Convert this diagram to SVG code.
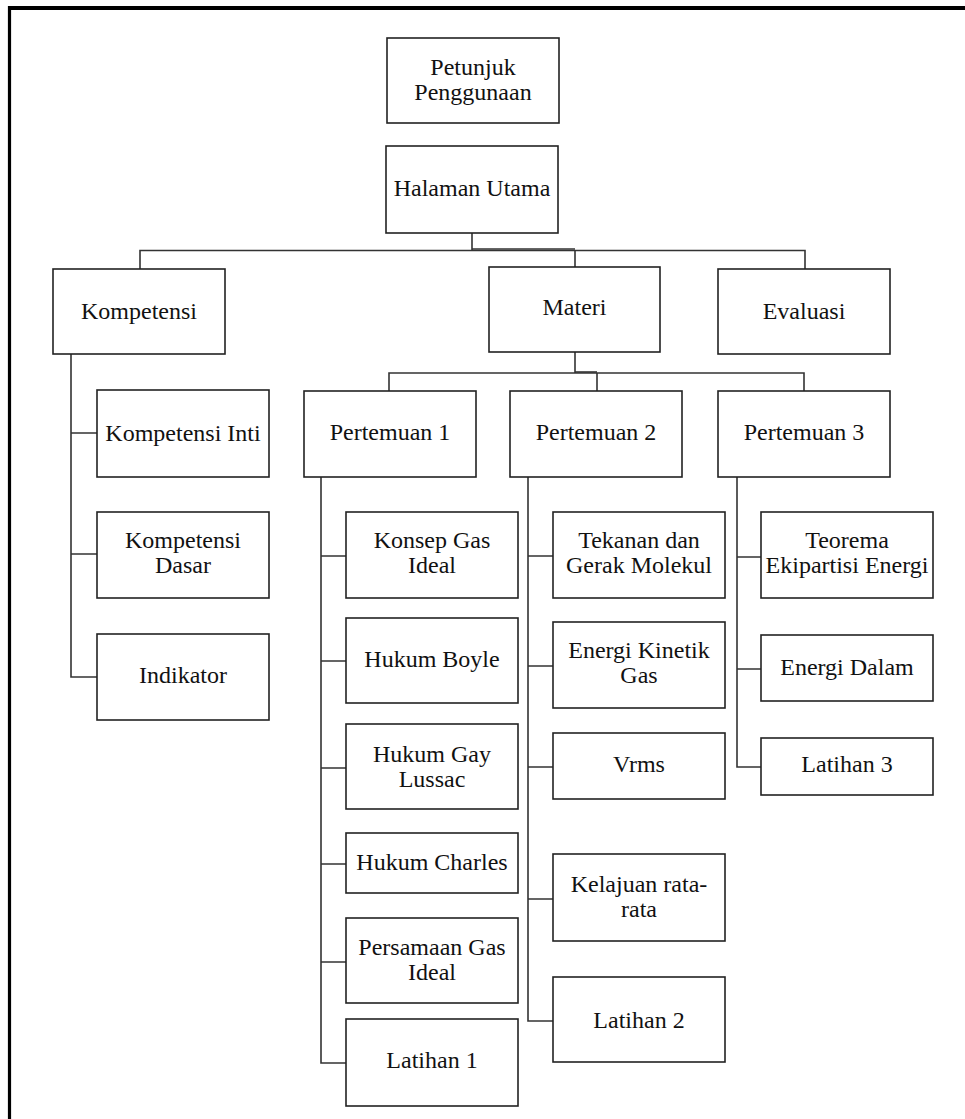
<svg xmlns="http://www.w3.org/2000/svg" width="965" height="1119" viewBox="0 0 965 1119">
<style>
.box{fill:#fff;stroke:#222;stroke-width:1.6}
.t{font-family:"Liberation Serif","Times New Roman",serif;font-size:24px;fill:#111;text-anchor:middle}
.c{fill:none;stroke:#333;stroke-width:1.6}
.frame{fill:none;stroke:#000}
</style>
<rect x="0" y="0" width="965" height="1119" fill="#fff"/>
<line class="frame" x1="9.5" y1="6" x2="9.5" y2="1119" stroke-width="3.2"/>
<line class="frame" x1="8" y1="8" x2="965" y2="8" stroke-width="4"/>
<g id="connectors">
<path class="c" d="M472 233V250"/>
<path class="c" d="M140 269V250.5H805V269"/>
<path class="c" d="M575 250V267"/>
<path class="c" d="M472 249H575" stroke-width="2"/>
<path class="c" d="M71 354V677H97M71 433H97M71 554H97"/>
<path class="c" d="M575 352V373"/>
<path class="c" d="M389 391V373H804V391"/>
<path class="c" d="M597 373V391"/>
<path class="c" d="M575 372H597" stroke-width="2"/>
<path class="c" d="M321 477V1063H346M321 556H346M321 661H346M321 768H346M321 864H346M321 962H346"/>
<path class="c" d="M528 477V1021H553M528 556H553M528 666H553M528 767H553M528 899H553"/>
<path class="c" d="M737 477V767H761M737 557H761M737 669H761"/>
</g>
<g id="petunjuk"><rect class="box" x="387" y="38" width="172" height="85"/><text class="t" x="473" y="75">Petunjuk</text><text class="t" x="473" y="100">Penggunaan</text></g>
<g id="halaman"><rect class="box" x="386" y="146" width="172" height="87"/><text class="t" x="472" y="196">Halaman Utama</text></g>
<g id="kompetensi"><rect class="box" x="53" y="269" width="172" height="85"/><text class="t" x="139" y="319">Kompetensi</text></g>
<g id="materi"><rect class="box" x="489" y="267" width="171" height="85"/><text class="t" x="574.5" y="315">Materi</text></g>
<g id="evaluasi"><rect class="box" x="718" y="269" width="172" height="85"/><text class="t" x="804" y="319">Evaluasi</text></g>
<g id="ki"><rect class="box" x="97" y="390" width="172" height="87"/><text class="t" x="183" y="441">Kompetensi Inti</text></g>
<g id="kd"><rect class="box" x="97" y="512" width="172" height="86"/><text class="t" x="183" y="548">Kompetensi</text><text class="t" x="183" y="573">Dasar</text></g>
<g id="indikator"><rect class="box" x="97" y="634" width="172" height="86"/><text class="t" x="183" y="683">Indikator</text></g>
<g id="p1"><rect class="box" x="304" y="391" width="172" height="86"/><text class="t" x="390" y="440">Pertemuan 1</text></g>
<g id="p2"><rect class="box" x="510" y="391" width="172" height="86"/><text class="t" x="596" y="440">Pertemuan 2</text></g>
<g id="p3"><rect class="box" x="718" y="391" width="172" height="86"/><text class="t" x="804" y="440">Pertemuan 3</text></g>
<g id="konsep"><rect class="box" x="346" y="512" width="172" height="86"/><text class="t" x="432" y="548">Konsep Gas</text><text class="t" x="432" y="573">Ideal</text></g>
<g id="boyle"><rect class="box" x="346" y="618" width="172" height="85"/><text class="t" x="432" y="667">Hukum Boyle</text></g>
<g id="gaylussac"><rect class="box" x="346" y="724" width="172" height="85"/><text class="t" x="432" y="762">Hukum Gay</text><text class="t" x="432" y="787">Lussac</text></g>
<g id="charles"><rect class="box" x="346" y="833" width="172" height="60"/><text class="t" x="432" y="870">Hukum Charles</text></g>
<g id="persamaan"><rect class="box" x="346" y="918" width="172" height="85"/><text class="t" x="432" y="955">Persamaan Gas</text><text class="t" x="432" y="980">Ideal</text></g>
<g id="latihan1"><rect class="box" x="346" y="1019" width="172" height="87"/><text class="t" x="432" y="1068">Latihan 1</text></g>
<g id="tekanan"><rect class="box" x="553" y="512" width="172" height="86"/><text class="t" x="639" y="548">Tekanan dan</text><text class="t" x="639" y="573">Gerak Molekul</text></g>
<g id="energikinetik"><rect class="box" x="553" y="622" width="172" height="86"/><text class="t" x="639" y="658">Energi Kinetik</text><text class="t" x="639" y="683">Gas</text></g>
<g id="vrms"><rect class="box" x="553" y="733" width="172" height="66"/><text class="t" x="639" y="772">Vrms</text></g>
<g id="kelajuan"><rect class="box" x="553" y="854" width="172" height="87"/><text class="t" x="639" y="892">Kelajuan rata-</text><text class="t" x="639" y="917">rata</text></g>
<g id="latihan2"><rect class="box" x="553" y="977" width="172" height="85"/><text class="t" x="639" y="1028">Latihan 2</text></g>
<g id="teorema"><rect class="box" x="761" y="512" width="172" height="86"/><text class="t" x="847" y="548">Teorema</text><text class="t" x="847" y="573">Ekipartisi Energi</text></g>
<g id="energidalam"><rect class="box" x="761" y="635" width="172" height="66"/><text class="t" x="847" y="675">Energi Dalam</text></g>
<g id="latihan3"><rect class="box" x="761" y="738" width="172" height="57"/><text class="t" x="847" y="772">Latihan 3</text></g>
</svg>
